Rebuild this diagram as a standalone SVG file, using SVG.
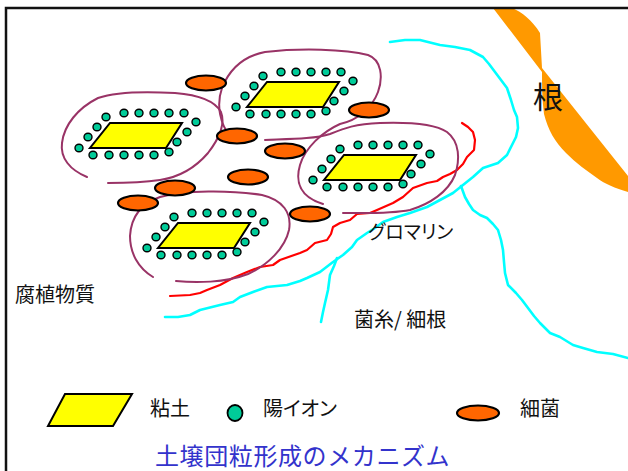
<svg xmlns="http://www.w3.org/2000/svg" xmlns:xlink="http://www.w3.org/1999/xlink" width="628" height="471" viewBox="0 0 628 471">
  <style>
    .clay { fill: #ffff00; stroke: #000; stroke-width: 2; stroke-linejoin: miter; }
    .ion { fill: #00cc99; stroke: #000; stroke-width: 1.4; }
    .germ { fill: #ff6600; stroke: #000; stroke-width: 2.2; }
    .humus { fill: none; stroke: #993366; stroke-width: 2; stroke-linecap: round; }
    .hypha { fill: none; stroke: #00ffff; stroke-width: 2.6; stroke-linejoin: round; stroke-linecap: round; }
    .glomalin { fill: none; stroke: #ff0000; stroke-width: 2.2; stroke-linejoin: round; stroke-linecap: round; }
    .label { font-family: "Noto Sans CJK JP", "Noto Sans", sans-serif; fill: #111; font-size: 20px; }
    .kana { font-feature-settings: "palt"; }
  </style>
  <defs>
    <!-- one clay plate ringed by cations, positioned by its top-left corner -->
    <g id="clay-aggregate">
      <polygon class="clay" points="0,0 72,0 56,25 -20,25"/>
      <g class="ion">
        <ellipse cx="14" cy="-10" rx="4" ry="3.8"/>
        <ellipse cx="29" cy="-10" rx="4" ry="3.8"/>
        <ellipse cx="44" cy="-10" rx="4" ry="3.8"/>
        <ellipse cx="59" cy="-10" rx="4" ry="3.8"/>
        <ellipse cx="74" cy="-10" rx="4" ry="3.8"/>
        <ellipse cx="-4" cy="-6" rx="4" ry="3.8"/>
        <ellipse cx="-13" cy="4" rx="4" ry="3.8"/>
        <ellipse cx="-22" cy="14" rx="4" ry="3.8"/>
        <ellipse cx="-31" cy="25" rx="4" ry="3.8"/>
        <ellipse cx="-17" cy="32" rx="4" ry="3.8"/>
        <ellipse cx="-1" cy="32" rx="4" ry="3.8"/>
        <ellipse cx="14" cy="32" rx="4" ry="3.8"/>
        <ellipse cx="29" cy="32" rx="4" ry="3.8"/>
        <ellipse cx="44" cy="32" rx="4" ry="3.8"/>
        <ellipse cx="59" cy="29" rx="4" ry="3.8"/>
        <ellipse cx="67" cy="19" rx="4" ry="3.8"/>
        <ellipse cx="77" cy="9" rx="4" ry="3.8"/>
        <ellipse cx="86" cy="-1" rx="4" ry="3.8"/>
      </g>
    </g>
  </defs>

  <rect width="628" height="471" fill="#fff"/>

  <!-- plant root -->
  <g id="root">
    <path fill="#ff9900" d="M493,8 L512,8 C522,12 532,20 540,33 L542,68 L628,176 L628,192 C615,188 605,184 597,178 C587,171 576,163 566,153 C555,142 548,130 544,114 C542,100 542,85 542,72 Z"/>
    <text class="label" x="533" y="108" style="font-size:30px">根</text>
  </g>

  <!-- hyphae, glomalin and humus strands -->
  <g id="connectors">
    <polyline class="hypha" points="390,42 405,40 420,40 440,45 455,47 470,50 483,57 489,64 495,72 501,80 507,88 511,100 514,110 517,117 518,128 516,137 513,143 507,155 498,163 483,168 473,177 463,185 453,193 440,200 427,207 410,213 397,217 383,222 375,228 367,233 357,240 352,247 343,255 333,262 320,272 307,278 300,281 287,285 267,287 253,292 240,297 233,302 220,305 200,310 190,315 178,317 165,317"/>
    <polyline class="hypha" points="337,258 334,266 330,275 328,290 325,303 323,312 321,322"/>
    <polyline class="hypha" points="461,186 465,197 469,204 473,210 480,215 487,218 493,224 498,230 501,240 503,250 504,262 505,273 508,285 516,293 522,300 528,308 534,316 540,323 550,333 560,337 573,345 583,348 597,352 613,354 628,358"/>
    <polyline class="glomalin" points="462,123 468,127 473,132 475,140 474,150 467,157 463,164 457,170 450,174 443,177 437,181 427,183 413,188 403,197 393,203 377,210 370,213 357,214 350,220 340,223 333,227 331,234 327,240 315,243 307,250 300,253 280,260 273,265 260,267 247,272 233,278 220,285 207,290 200,293 190,295 170,296"/>
    <path class="humus" d="M87,177 C70,170 60,158 62,143 C64,125 78,108 98,98 C115,92 140,91 175,93 C200,95 215,101 221,112 C226,125 218,140 208,153 C196,167 180,177 160,180 C140,183 120,183 108,183"/>
    <path class="humus" d="M231,137 C220,125 216,105 222,88 C230,68 245,56 265,52 C300,48 345,49 368,55 C382,60 383,78 378,92 C372,108 358,120 340,124 C322,132 305,148 300,165 C295,182 300,197 323,204"/>
    <path class="humus" d="M265,140 C290,139 315,139 330,134 C345,128 355,124 380,123 C410,122 435,124 447,132 C460,142 460,160 455,175 C448,192 430,204 410,210 C390,214 365,213 343,213"/>
    <path class="humus" d="M153,277 C138,268 130,253 130,236 C131,218 140,204 160,197 C185,190 230,190 262,195 C283,200 292,213 289,230 C285,248 268,265 248,274 C225,283 195,283 176,281"/>
  </g>

  <!-- clay aggregates -->
  <g id="aggregate-1"><use xlink:href="#clay-aggregate" href="#clay-aggregate" x="110" y="123"/></g>
  <g id="aggregate-2"><use xlink:href="#clay-aggregate" href="#clay-aggregate" x="267" y="82"/></g>
  <g id="aggregate-3"><use xlink:href="#clay-aggregate" href="#clay-aggregate" x="344" y="155"/></g>
  <g id="aggregate-4"><use xlink:href="#clay-aggregate" href="#clay-aggregate" x="178" y="223"/></g>

  <!-- bacteria -->
  <g id="bacteria">
    <ellipse class="germ" cx="206" cy="83" rx="20" ry="7.5"/>
    <ellipse class="germ" cx="369" cy="110" rx="20" ry="7.5"/>
    <ellipse class="germ" cx="237" cy="136" rx="20" ry="7.5"/>
    <ellipse class="germ" cx="285" cy="151" rx="20" ry="7.5"/>
    <ellipse class="germ" cx="248" cy="177" rx="20" ry="7.5"/>
    <ellipse class="germ" cx="175" cy="188" rx="20" ry="7.5"/>
    <ellipse class="germ" cx="138" cy="203" rx="20" ry="7.5"/>
    <ellipse class="germ" cx="310" cy="214" rx="20" ry="7.5"/>
  </g>

  <!-- labels -->
  <g id="label-glomalin"><text class="label kana" x="368" y="239" style="font-size:19px">グロマリン</text></g>
  <g id="label-humus"><text class="label" x="15" y="302">腐植物質</text></g>
  <g id="label-hyphae"><text class="label" x="354" y="327">菌糸/ 細根</text></g>

  <!-- legend -->
  <g id="legend-clay">
    <polygon class="clay" points="65,394 132,394 113,426 48,426"/>
    <text class="label" x="150" y="416">粘土</text>
  </g>
  <g id="legend-ion">
    <ellipse class="ion" cx="235" cy="413" rx="7.5" ry="8" style="stroke-width:1.8"/>
    <text class="label kana" x="263" y="416">陽イオン</text>
  </g>
  <g id="legend-bacteria">
    <ellipse class="germ" cx="478" cy="413" rx="21" ry="7.5"/>
    <text class="label" x="520" y="416">細菌</text>
  </g>

  <g id="title">
    <text class="label" x="155" y="465" style="font-size:24px;fill:#3333cc;letter-spacing:0.6px">土壌団粒形成のメカニズム</text>
  </g>

  <!-- frame -->
  <path d="M6,471 V8 H628" fill="none" stroke="#111" stroke-width="2.5"/>
</svg>
